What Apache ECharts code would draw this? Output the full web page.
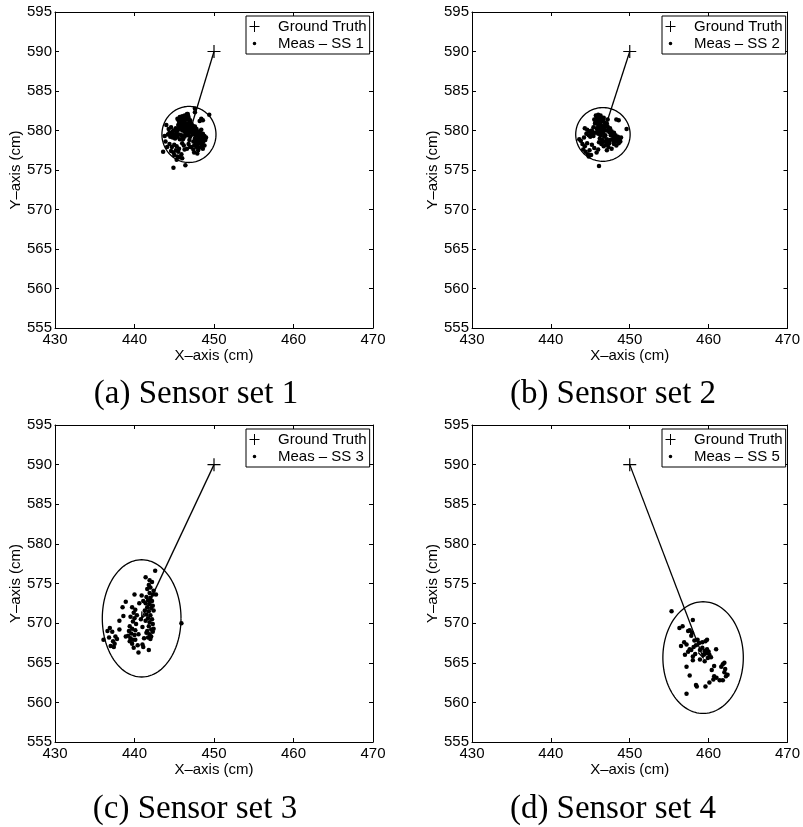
<!DOCTYPE html>
<html>
<head>
<meta charset="utf-8">
<script src="https://cdn.jsdelivr.net/npm/echarts@6/dist/echarts.min.js"></script>
<style>
  body { margin: 0; background: #fff; }
  #chartmain { width: 803px; height: 827px; }
</style>
</head>
<body>
<div id="chartmain"></div>
<script type="text/javascript">
// axis ranges and ticks (cm)
var xMin = 430, xMax = 470, xStep = 10;
var yMin = 555, yMax = 595, yStep = 5;

// ground truth position, same in every panel
var truth = [450, 590];

// captions and legend names
var captions = ['(a) Sensor set 1', '(b) Sensor set 2', '(c) Sensor set 3', '(d) Sensor set 4'];
var measNames = ['Meas \u2013 SS 1', 'Meas \u2013 SS 2', 'Meas \u2013 SS 3', 'Meas \u2013 SS 5'];

// fitted ellipse of each panel: [centre x, centre y, half width, half height]
var ellipses = [
    [446.85, 579.5, 3.4, 3.55],
    [446.6, 579.5, 3.45, 3.4],
    [440.9, 570.6, 4.95, 7.4],
    [459.3, 565.65, 5.1, 7.05]
];

// measurements, sensor set 1
var meas1 = [
    [445.4,581.5],[445.7,581.7],[446.0,581.8],[446.3,581.9],[446.6,582.1],[446.1,581.4],[446.4,581.5],[446.8,581.6],
    [447.0,581.3],[445.6,581.1],[445.9,581.0],[446.2,581.1],[446.5,580.9],[446.9,580.9],[447.2,580.8],[445.5,580.7],
    [445.8,580.5],[446.1,580.6],[446.4,580.4],[446.7,580.5],[447.0,580.4],[447.3,580.3],[447.6,580.5],[447.8,580.2],
    [445.2,580.3],[445.5,580.1],[446.0,580.0],[446.3,579.9],[446.6,580.0],[446.9,579.8],[447.2,579.9],[447.5,579.7],
    [445.55,581.3],[445.85,581.45],[446.15,581.6],[446.45,581.7],[446.75,581.85],[446.25,581.25],[446.6,581.35],
    [446.95,581.1],[445.75,580.8],[446.05,580.85],[446.35,580.65],[446.65,580.7],[447.05,580.6],[447.4,580.55],
    [445.65,580.35],[445.95,580.25],[446.25,580.3],[446.55,580.2],[446.85,580.25],[447.15,580.1],[447.45,580.05],
    [447.75,579.9],[447.85,579.6],[448.15,579.6],[448.45,579.35],[448.1,579.05],[448.35,578.6],[447.85,578.65],
    [448.45,578.2],[447.65,578.75],[448.65,579.05],[445.3,579.95],[444.8,579.85],[445.15,579.3],[444.6,579.4],
    [446.4,579.6],[446.8,579.55],[447.3,579.5],
    [447.9,579.8],[448.2,579.9],[448.4,580.1],[447.7,579.4],[448.0,579.3],[448.3,579.5],[448.6,579.6],[448.8,579.3],
    [447.6,579.0],[447.9,578.9],[448.2,578.8],[448.5,578.9],[448.9,578.8],[449.0,579.1],[447.4,578.6],[447.7,578.4],
    [448.0,578.3],[448.3,578.4],[448.6,578.5],[448.8,578.1],[447.5,578.1],[447.8,577.9],[448.1,577.8],[448.4,577.9],
    [448.0,577.5],[447.4,577.6],[447.1,577.9],[448.6,577.7],
    [444.3,580.2],[444.6,580.4],[444.9,580.0],[444.4,579.7],[444.7,579.6],[445.0,579.5],[445.3,579.7],[445.6,579.5],
    [444.5,579.2],[444.8,579.1],[445.1,579.0],[445.4,579.2],[445.7,578.9],[444.2,579.5],[445.9,579.4],
    [446.0,579.3],[446.3,579.2],[446.7,579.4],[447.0,579.2],[446.1,578.9],[446.9,578.8],[446.0,578.4],[446.2,578.1],
    [446.8,578.3],[447.0,577.9],[446.6,577.7],[446.3,577.6],
    [444.4,578.3],[444.7,577.9],[445.0,578.2],[445.3,578.0],[445.6,577.7],[444.6,577.4],[444.9,577.2],[445.2,577.5],
    [445.5,577.3],[445.0,576.9],[445.4,576.7],[445.7,576.6],[445.3,576.3],[445.9,577.0],[446.0,576.5],
    [448.2,581.2],[448.4,581.5],[448.6,581.3],[449.4,582.0],[447.6,582.3],[447.6,582.8],[446.7,582.1],[444.9,575.3],
    [446.4,575.6],[443.6,577.3],[443.9,578.6],[444.1,577.9],[447.5,577.2],[447.9,577.1],[443.8,579.3],[444.0,580.7]
];

// measurements, sensor set 2
var meas2 = [
    [445.5,581.4],[445.8,581.6],[446.1,581.7],[446.4,581.5],[446.7,581.6],[445.9,581.2],[446.2,581.1],[446.5,581.2],
    [446.8,581.0],[447.1,580.9],[445.6,580.9],[446.0,580.7],[446.3,580.8],[446.6,580.5],[446.9,580.6],[447.2,580.5],
    [447.5,580.3],[445.4,580.4],[445.8,580.3],[446.1,580.1],[446.4,580.2],[446.8,580.1],[447.1,580.0],[445.7,581.9],
    [446.0,582.0],[446.3,581.9],
    [445.65,581.05],[446.0,581.35],[446.35,581.3],[446.65,581.35],[446.95,580.8],[446.15,580.5],[446.5,580.55],
    [446.8,580.35],[447.35,580.15],[445.9,580.05],[446.25,579.85],[447.6,579.6],[448.15,579.05],[448.35,578.9],
    [447.95,578.55],[446.75,579.2],[445.3,579.75],[445.0,579.2],[446.5,578.5],[447.25,578.55],
    [447.4,579.8],[447.7,579.9],[448.0,579.7],[447.6,579.4],[447.9,579.3],[448.2,579.4],[448.5,579.2],[448.7,578.9],
    [448.9,579.1],[447.8,578.9],[448.1,578.7],[448.4,578.6],[448.6,578.4],[447.5,578.8],[448.0,578.3],[448.8,578.6],
    [444.3,580.3],[444.6,580.1],[444.9,579.9],[445.2,580.0],[444.5,579.6],[444.8,579.4],[445.1,579.5],[445.4,579.3],
    [445.6,579.7],[444.2,579.1],
    [446.0,579.6],[446.3,579.4],[446.6,579.7],[446.9,579.4],[446.2,579.0],[446.5,578.8],[446.8,578.6],[447.1,578.9],
    [446.4,578.3],[446.7,578.0],[447.0,578.2],[447.3,577.9],[446.1,578.5],[447.4,578.4],
    [443.8,578.7],[444.0,578.3],[444.3,578.0],[444.6,578.4],[444.1,577.6],[444.4,577.3],[444.7,577.0],[444.9,577.5],
    [445.2,578.2],[445.5,577.8],[445.1,576.9],[444.8,576.7],[445.8,577.2],[446.0,577.6],[443.6,578.9],
    [446.1,575.5],[448.3,581.4],[448.6,581.3],[449.6,580.2],[447.1,577.5],[447.7,577.7],[448.3,578.1],[447.2,581.4]
];

// measurements, sensor set 3
var meas3 = [
    [442.6,576.6],[441.4,575.8],[441.9,575.4],[442.2,575.2],[441.8,574.8],[442.0,574.5],[442.4,574.1],[441.6,574.3],
    [441.9,573.8],[442.3,573.6],[442.7,573.6],[441.5,573.3],[442.0,573.2],[441.7,572.9],[442.2,572.8],[441.4,572.5],
    [441.9,572.4],[442.3,572.2],[441.6,572.0],[442.1,571.9],[441.3,571.6],[441.8,571.5],[442.4,571.6],[441.5,571.1],
    [442.0,571.0],[441.7,570.6],[442.2,570.5],[441.9,570.1],[441.4,570.3],[442.3,569.9],[441.8,569.6],[442.1,569.2],
    [441.6,569.0],[442.3,568.9],[441.9,568.6],[442.1,568.3],[441.7,568.2],[442.0,568.0],[441.5,568.8],[442.4,569.3],
    [440.0,573.6],[440.6,572.5],[439.7,572.0],[440.1,571.7],[439.9,571.3],[440.3,571.0],[439.5,570.8],[440.0,570.6],
    [439.8,570.2],[440.2,569.9],[439.4,569.6],[439.7,569.3],[440.1,569.1],[439.3,569.0],[439.6,568.7],[440.0,568.5],
    [439.2,568.4],[439.5,568.1],[439.8,567.9],[439.4,567.7],[439.7,567.4],[440.1,567.9],[440.5,568.6],[438.9,568.3],
    [438.6,570.9],[438.5,572.0],[439.9,566.9],[440.5,566.3],[440.4,567.2],[441.0,567.3],[441.1,567.0],[441.8,566.6],
    [441.2,568.1],[441.0,569.5],[440.8,570.5],[441.1,572.8],[440.9,573.5],[438.1,570.3],[438.9,572.7],
    [436.1,567.9],[436.6,569.0],[436.9,569.4],[437.2,568.9],[436.8,568.2],[437.3,567.7],[437.5,567.4],[437.6,568.3],
    [437.0,567.1],[437.4,567.0],[438.1,569.2],[437.8,568.0],
    [445.9,570.0]
];

// measurements, sensor set 5 (panel d)
var meas5 = [
    [455.3,571.5],[456.3,569.4],[456.7,569.6],[457.4,569.0],[457.6,569.1],[457.9,568.8],[458.0,570.4],[457.8,568.4],
    [458.2,567.8],[458.6,567.9],[458.8,567.5],[459.2,567.6],[459.6,567.7],[459.8,567.9],[458.4,567.2],[457.8,566.6],
    [457.4,566.4],[457.2,567.3],[456.5,567.1],[457.0,566.0],[457.6,566.7],[458.0,565.8],[458.3,566.1],[458.9,566.6],
    [459.2,566.9],[459.5,566.5],[459.8,566.7],[460.0,566.4],[460.1,566.0],[459.7,566.2],[459.4,566.0],[459.9,565.6],
    [460.3,565.7],[460.95,566.7],[458.9,565.4],[459.5,565.2],[457.2,564.5],[458.0,565.3],[460.7,564.6],[460.4,564.1],
    [461.8,564.8],[462.0,565.0],[461.6,564.5],[462.0,563.8],[462.4,563.5],[462.2,563.3],[461.4,562.8],[461.8,562.8],
    [460.7,563.3],[460.1,562.5],[459.6,562.0],[458.4,562.2],[458.5,562.0],[457.6,563.4],[457.2,561.1],[461.0,563.1],
    [460.6,562.9],[462.1,564.2],[456.9,567.6],[458.1,567.0]
];
var measAll = [meas1, meas2, meas3, meas5];

// panel placement
var grids = [
    { left: 55, top: 12, width: 318, height: 316 },
    { left: 472, top: 12, width: 316, height: 316 },
    { left: 55, top: 425, width: 318, height: 317 },
    { left: 472, top: 425, width: 316, height: 317 }
];
var legendPos = [[246, 16], [662, 16], [246, 429], [662, 429]];
var captionPos = [[196, 378], [613, 378], [195, 793], [613, 793]];

var fontSans = '"Liberation Sans", Arial, Helvetica, sans-serif';
var plusSymbol = 'path://M0,5H11V6H0ZM5,0H6V11H5Z';
var plusIcon = 'path://M0,0L0.01,0ZM25,12L24.99,12ZM1.5,5.5H11.5V6.5H1.5ZM6,0.5H7V11.5H6Z';
var dotIcon = 'path://M0,0L0.01,0ZM25,12L24.99,12ZM4.7,6A1.8,1.8,0,1,1,8.3,6A1.8,1.8,0,1,1,4.7,6Z';

// ellipse + quiver line from truth to ellipse centre
function renderEllipse(params, api) {
    var cx = api.value(0), cy = api.value(1), rx = api.value(2), ry = api.value(3);
    var pts = [];
    for (var i = 0; i <= 120; i++) {
        var t = i / 120 * 2 * Math.PI;
        pts.push(api.coord([cx + rx * Math.cos(t), cy + ry * Math.sin(t)]));
    }
    var tip = api.coord([cx, cy]);
    var base = api.coord(truth);
    var ang = Math.atan2(tip[1] - base[1], tip[0] - base[0]);
    var L = 7, a = 0.4;
    var w1 = [tip[0] - L * Math.cos(ang - a), tip[1] - L * Math.sin(ang - a)];
    var w2 = [tip[0] - L * Math.cos(ang + a), tip[1] - L * Math.sin(ang + a)];
    var st = { stroke: '#000', lineWidth: 1.3, fill: 'none' };
    return {
        type: 'group',
        children: [
            { type: 'polyline', shape: { points: pts }, style: st },
            { type: 'line', shape: { x1: base[0], y1: base[1], x2: tip[0], y2: tip[1] }, style: st },
            { type: 'polyline', shape: { points: [w1, tip, w2] }, style: st }
        ]
    };
}

var xAxes = [], yAxes = [], series = [], legends = [], titles = [];
for (var i = 0; i < 4; i++) {
    var tick = { inside: true, length: 4, lineStyle: { color: '#000', width: 1 } };
    var line = { show: true, onZero: false, lineStyle: { color: '#000', width: 1 } };
    xAxes.push({
        gridIndex: i, type: 'value', position: 'bottom', min: xMin, max: xMax, interval: xStep,
        name: 'X\u2013axis (cm)', nameLocation: 'middle', nameGap: 20,
        nameTextStyle: { color: '#000', fontSize: 15, fontFamily: fontSans },
        axisLine: line, axisTick: tick, splitLine: { show: false },
        axisLabel: { color: '#000', fontSize: 15, fontFamily: fontSans, margin: 4 }
    });
    xAxes.push({
        gridIndex: i, type: 'value', position: 'top', min: xMin, max: xMax, interval: xStep,
        axisLine: line, axisTick: tick, splitLine: { show: false }, axisLabel: { show: false }
    });
    yAxes.push({
        gridIndex: i, type: 'value', position: 'left', min: yMin, max: yMax, interval: yStep,
        name: 'Y\u2013axis (cm)', nameLocation: 'middle', nameGap: 32,
        nameTextStyle: { color: '#000', fontSize: 15, fontFamily: fontSans },
        axisLine: line, axisTick: tick, splitLine: { show: false },
        axisLabel: { color: '#000', fontSize: 15, fontFamily: fontSans, margin: 3 }
    });
    yAxes.push({
        gridIndex: i, type: 'value', position: 'right', min: yMin, max: yMax, interval: yStep,
        axisLine: line, axisTick: tick, splitLine: { show: false }, axisLabel: { show: false }
    });

    series.push({
        type: 'custom', xAxisIndex: 2 * i, yAxisIndex: 2 * i, z: 2, silent: true,
        renderItem: renderEllipse, encode: { x: 0, y: 1 },
        data: [ellipses[i]]
    });
    series.push({
        name: 'Ground Truth', type: 'scatter', xAxisIndex: 2 * i, yAxisIndex: 2 * i, z: 4,
        symbol: plusSymbol, symbolSize: 13, itemStyle: { color: '#000', opacity: 1 },
        data: [truth]
    });
    series.push({
        name: measNames[i], type: 'scatter', xAxisIndex: 2 * i, yAxisIndex: 2 * i, z: 3,
        symbol: 'circle', symbolSize: 4.5, itemStyle: { color: '#000', opacity: 1 },
        data: measAll[i]
    });

    legends.push({
        orient: 'vertical', left: legendPos[i][0], top: legendPos[i][1],
        padding: [3, 3, 3, 2], itemGap: 2, itemWidth: 25, itemHeight: 12,
        borderColor: '#000', borderWidth: 1, borderRadius: 0, backgroundColor: '#fff',
        textStyle: { color: '#000', fontSize: 15, fontFamily: fontSans },
        selectedMode: false,
        data: [{ name: 'Ground Truth', icon: plusIcon }, { name: measNames[i], icon: dotIcon }]
    });

    titles.push({
        text: captions[i], left: captionPos[i][0], top: captionPos[i][1],
        textAlign: 'center', textVerticalAlign: 'top', padding: 0,
        textStyle: { color: '#000', fontSize: 33, fontWeight: 'normal', fontFamily: '"Liberation Serif", "Times New Roman", serif' }
    });
}

var option = {
    animation: false,
    backgroundColor: '#fff',
    title: titles,
    legend: legends,
    grid: grids,
    xAxis: xAxes,
    yAxis: yAxes,
    series: series
};

var myChart = echarts.init(document.getElementById('chartmain'));
myChart.setOption(option);
</script>
</body>
</html>
